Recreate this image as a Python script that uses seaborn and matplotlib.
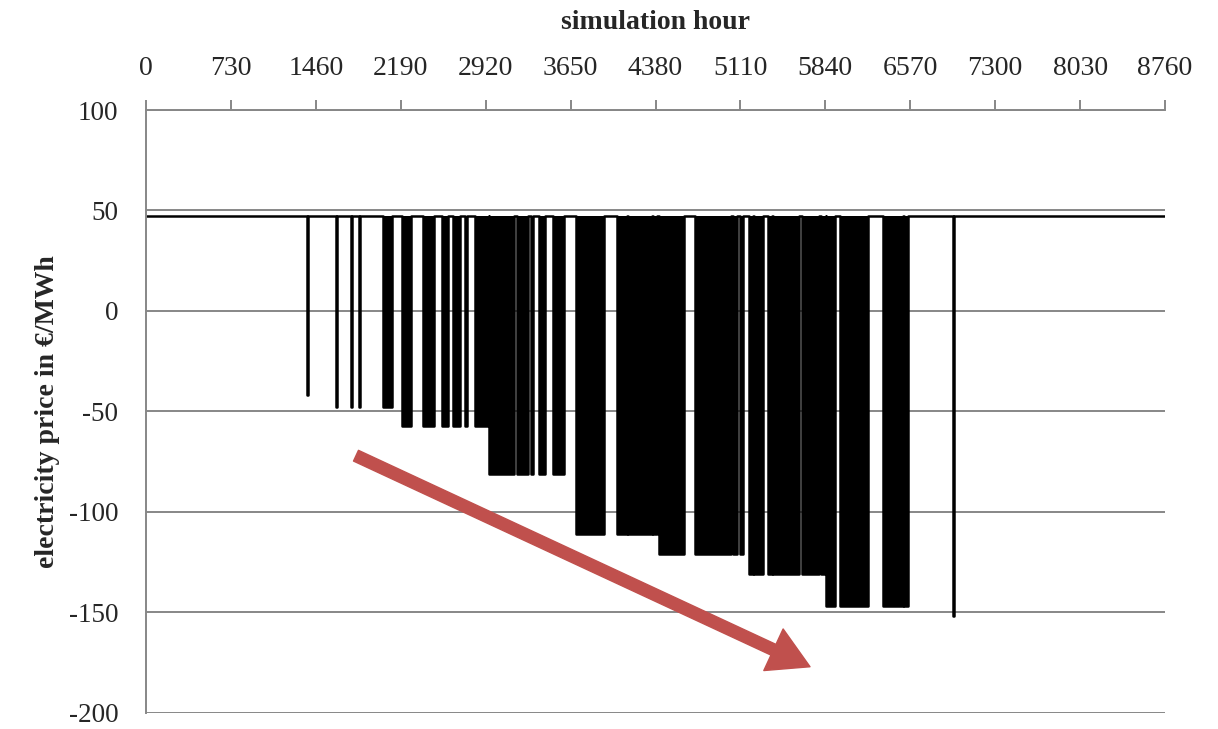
import numpy as np
import pandas as pd
import matplotlib
matplotlib.use("Agg")
import matplotlib.pyplot as plt
from matplotlib.patches import FancyArrowPatch, ArrowStyle
import seaborn as sns

# price level outside of the negative-price hours
base_price = 47.5

# negative price periods (simulation hour start/end, price in EUR/MWh)
dip_start = [1384, 1633, 1762, 1831, 2037, 2201, 2381, 2545, 2639, 2740,
             2828, 2948, 3190, 3310, 3378, 3499, 3697, 4049, 4144, 4359,
             4410, 4720, 5045, 5107, 5184, 5227, 5347, 5390, 5640, 5803,
             5846, 5966, 6336, 6517, 6940]
dip_end = [1390, 1639, 1768, 1837, 2115, 2278, 2476, 2596, 2700, 2760,
           2948, 3164, 3284, 3327, 3430, 3594, 3937, 4135, 4350, 4393,
           4625, 5030, 5081, 5132, 5218, 5304, 5382, 5614, 5786, 5846,
           5923, 6207, 6508, 6551, 6946]
dip_price = [-42, -48, -48, -48, -48, -57, -57, -57, -57, -57,
             -57, -81, -81, -81, -81, -81, -111, -111, -111, -111,
             -121, -121, -121, -121, -131, -131, -131, -131, -131, -131,
             -147, -147, -147, -147, -152]

x_ticks = [0, 730, 1460, 2190, 2920, 3650, 4380, 5110, 5840, 6570, 7300, 8030, 8760]
y_ticks = [-200, -150, -100, -50, 0, 50, 100]

# trend arrow (hour, price)
arrow_start = (1805, -72)
arrow_end = (5708, -177)

hours = [0]
prices = [base_price]
for s, e, p in zip(dip_start, dip_end, dip_price):
    hours += [s, s, e, e]
    prices += [base_price, p, p, base_price]
hours.append(8760)
prices.append(base_price)
df = pd.DataFrame({"hour": hours, "price": prices})

sns.set_style("white")
plt.rcParams["font.family"] = ["Liberation Serif", "DejaVu Serif"]
plt.rcParams["axes.unicode_minus"] = False

axis_gray = "#878787"

fig, ax = plt.subplots(figsize=(12.18, 7.29), dpi=100)
fig.subplots_adjust(left=0.1199, right=0.9565, top=0.8491, bottom=0.022)

ax.set_axisbelow(True)
ax.grid(axis="y", color=axis_gray, lw=1.4)

sns.lineplot(data=df, x="hour", y="price", estimator=None, sort=False,
             color="black", lw=1.8, ax=ax)
ax.fill_between(df["hour"], df["price"], base_price, color="black", lw=0)

ax.set_xlim(0, 8760)
ax.set_ylim(-200, 100)
ax.xaxis.tick_top()
ax.xaxis.set_label_position("top")
ax.set_xticks(x_ticks)
ax.set_yticks(y_ticks)
ax.tick_params(axis="x", direction="out", length=7, width=1.4, color=axis_gray,
               labelsize=20, pad=14)
ax.tick_params(axis="y", direction="inout", length=12, width=1.4, color=axis_gray,
               labelsize=19.5, pad=14)
for lbl in ax.get_yticklabels():
    lbl.set_verticalalignment("center_baseline")
for side in ["right", "bottom"]:
    ax.spines[side].set_visible(False)
for side in ["left", "top"]:
    ax.spines[side].set_color(axis_gray)
    ax.spines[side].set_linewidth(1.4)

ax.set_xlabel("simulation hour", fontsize=20, fontweight="bold", labelpad=19)
ax.set_ylabel("electricity price in €/MWh", fontsize=20, fontweight="bold", labelpad=6)

arrow = FancyArrowPatch(arrow_start, arrow_end, transform=ax.transData,
                        arrowstyle=ArrowStyle.Simple(head_length=29, head_width=33, tail_width=8.5),
                        mutation_scale=1, color="#C0504D", shrinkA=0, shrinkB=0,
                        clip_on=False, zorder=5)
ax.add_patch(arrow)

plt.savefig("out.png", dpi=100)
plt.close()
